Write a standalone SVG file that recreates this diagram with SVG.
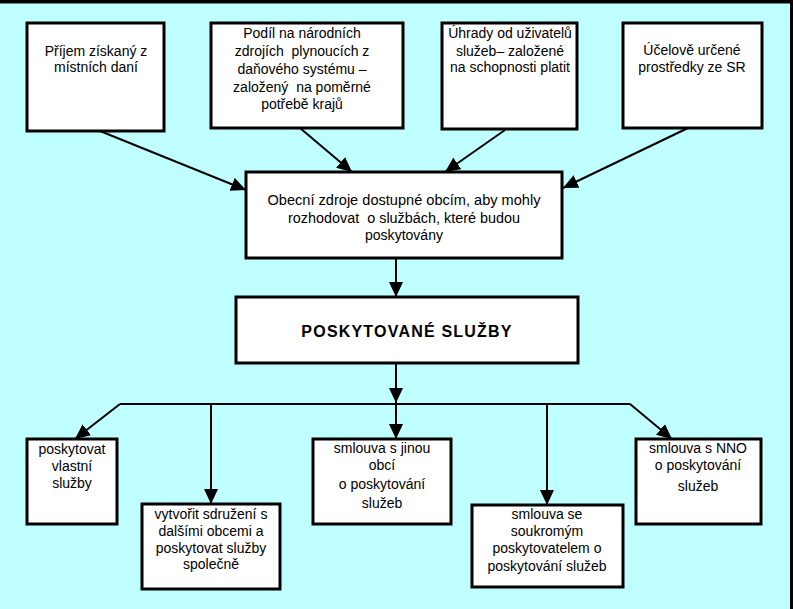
<svg xmlns="http://www.w3.org/2000/svg" width="793" height="609" viewBox="0 0 793 609">
<defs>
<style>
.box{fill:#fff;stroke:#000;stroke-width:3}
.t{font-family:"Liberation Sans",Arial,sans-serif;font-size:14px;fill:#000;text-anchor:middle}
.tm{font-family:"Liberation Sans",Arial,sans-serif;font-size:15.5px;fill:#000;text-anchor:middle}
.tb{font-family:"Liberation Sans",Arial,sans-serif;font-size:16px;font-weight:bold;fill:#000;text-anchor:middle;letter-spacing:1.2px}
.c{stroke:#000;stroke-width:2;fill:none}
</style>
<marker id="ah" markerUnits="userSpaceOnUse" markerWidth="16" markerHeight="14" refX="15" refY="7" orient="auto">
<path d="M0,0 L15,7 L0,14 Z" fill="#000"/>
</marker>
</defs>
<rect x="0" y="0" width="793" height="609" fill="#C0FFFF"/>
<rect x="0" y="0" width="793" height="3.5" fill="#000"/>
<rect x="790" y="0" width="3" height="609" fill="#000"/>

<g id="connectors">
<line class="c" x1="100" y1="131" x2="246" y2="190" marker-end="url(#ah)"/>
<line class="c" x1="300" y1="128" x2="352" y2="172" marker-end="url(#ah)"/>
<line class="c" x1="505" y1="130" x2="445" y2="172" marker-end="url(#ah)"/>
<line class="c" x1="688" y1="128" x2="563" y2="188" marker-end="url(#ah)"/>
<line class="c" x1="396" y1="258" x2="396" y2="297" marker-end="url(#ah)"/>
<line class="c" x1="396" y1="363" x2="396" y2="403" marker-end="url(#ah)"/>
<line class="c" x1="120" y1="404" x2="630" y2="404"/>
<line class="c" x1="120" y1="404" x2="75" y2="439" marker-end="url(#ah)"/>
<line class="c" x1="211" y1="404" x2="211" y2="504" marker-end="url(#ah)"/>
<line class="c" x1="396" y1="404" x2="396" y2="439" marker-end="url(#ah)"/>
<line class="c" x1="547" y1="404" x2="547" y2="505" marker-end="url(#ah)"/>
<line class="c" x1="630" y1="404" x2="672" y2="439" marker-end="url(#ah)"/>
</g>

<g id="n1">
<rect class="box" x="27" y="23" width="137" height="108"/>
<text class="t" x="96" y="56">Příjem získaný z</text>
<text class="t" x="96" y="72">místních daní</text>
</g>
<g id="n2">
<rect class="box" x="211" y="23" width="192" height="105"/>
<text class="t" x="302" y="38">Podíl na národních</text>
<text class="t" x="302" y="56" xml:space="preserve">zdrojích  plynoucích z</text>
<text class="t" x="302" y="74">daňového systému –</text>
<text class="t" x="302" y="92" xml:space="preserve">založený  na poměrné</text>
<text class="t" x="302" y="109">potřebě krajů</text>
</g>
<g id="n3">
<rect class="box" x="442" y="23" width="135" height="106"/>
<text class="t" x="510" y="38">Úhrady od uživatelů</text>
<text class="t" x="510" y="56">služeb– založené</text>
<text class="t" x="510" y="72">na schopnosti platit</text>
</g>
<g id="n4">
<rect class="box" x="623" y="23" width="139" height="105"/>
<text class="t" x="692" y="55">Účelově určené</text>
<text class="t" x="692" y="72">prostředky ze SR</text>
</g>
<g id="n5">
<rect class="box" x="246" y="172" width="316" height="86"/>
<text class="tm" x="404" y="205" textLength="273" lengthAdjust="spacingAndGlyphs">Obecní zdroje dostupné obcím, aby mohly</text>
<text class="tm" x="404" y="223" xml:space="preserve" textLength="232" lengthAdjust="spacingAndGlyphs">rozhodovat  o službách, které budou</text>
<text class="tm" x="404" y="240" textLength="78" lengthAdjust="spacingAndGlyphs">poskytovány</text>
</g>
<g id="n6">
<rect class="box" x="236" y="297" width="342" height="66"/>
<text class="tb" x="407" y="337">POSKYTOVANÉ SLUŽBY</text>
</g>
<g id="n7">
<rect class="box" x="27" y="439" width="90" height="85"/>
<text class="t" x="72" y="454">poskytovat</text>
<text class="t" x="72" y="471">vlastní</text>
<text class="t" x="72" y="488">služby</text>
</g>
<g id="n8">
<rect class="box" x="142" y="504" width="138" height="85"/>
<text class="t" x="211" y="519">vytvořit sdružení s</text>
<text class="t" x="211" y="536">dalšími obcemi a</text>
<text class="t" x="211" y="553">poskytovat služby</text>
<text class="t" x="211" y="569">společně</text>
</g>
<g id="n9">
<rect class="box" x="313" y="439" width="138" height="85"/>
<text class="t" x="382" y="453">smlouva s jinou</text>
<text class="t" x="382" y="470">obcí</text>
<text class="t" x="382" y="489">o poskytování</text>
<text class="t" x="382" y="508">služeb</text>
</g>
<g id="n10">
<rect class="box" x="472" y="505" width="151" height="82"/>
<text class="t" x="547" y="519">smlouva se</text>
<text class="t" x="547" y="536">soukromým</text>
<text class="t" x="547" y="553">poskytovatelem o</text>
<text class="t" x="547" y="571">poskytování služeb</text>
</g>
<g id="n11">
<rect class="box" x="636" y="439" width="125" height="85"/>
<text class="t" x="698" y="453">smlouva s NNO</text>
<text class="t" x="698" y="470">o poskytování</text>
<text class="t" x="698" y="491">služeb</text>
</g>
</svg>
